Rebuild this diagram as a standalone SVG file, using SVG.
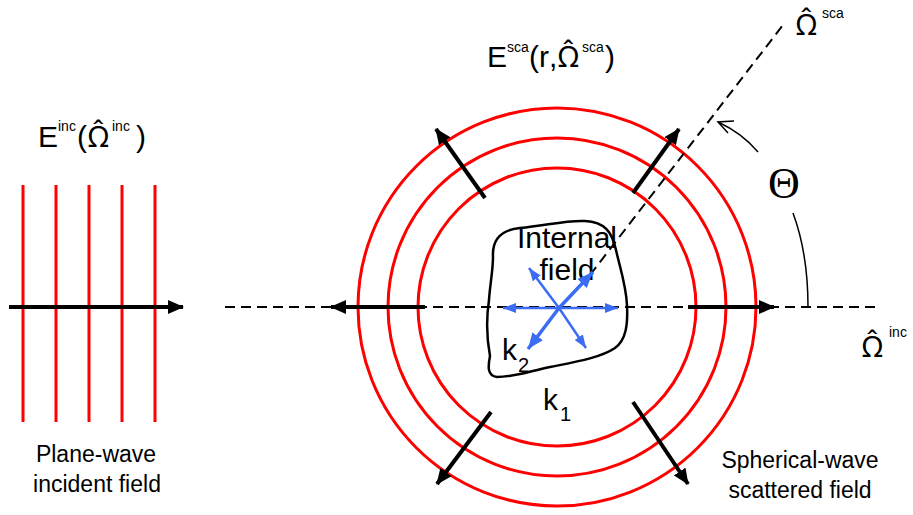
<svg xmlns="http://www.w3.org/2000/svg" width="913" height="515" viewBox="0 0 913 515">
  <defs>
    <style>
      .t { font-family: "Liberation Sans", Arial, sans-serif; fill: #000; font-size: 30px; }
      .om { font-family: "Noto Sans", sans-serif; font-size: 29px; }
      .sup { font-size: 14px; }
      .lbl { font-size: 23px; }
      .red { stroke: #ff0000; stroke-width: 3; fill: none; }
      .blk { stroke: #000; stroke-width: 4; fill: none; }
      .dash { stroke: #000; stroke-width: 2; fill: none; stroke-dasharray: 10 6; }
      .blue { stroke: #3a6cf4; stroke-width: 2.5; fill: none; }
      .blue2 { stroke: #3a6cf4; stroke-width: 3.5; fill: none; }
    </style>
    <marker id="ah" markerUnits="userSpaceOnUse" markerWidth="16" markerHeight="14" refX="15" refY="7" orient="auto">
      <path d="M0,0 L16,7 L0,14 Z" fill="#000"/>
    </marker>
    <marker id="bh" markerUnits="userSpaceOnUse" markerWidth="13" markerHeight="10" refX="13" refY="5" orient="auto">
      <path d="M0,0 L13,5 L0,10 Z" fill="#3a6cf4"/>
    </marker>
    <marker id="bh2" markerUnits="userSpaceOnUse" markerWidth="16" markerHeight="13" refX="16" refY="6.5" orient="auto">
      <path d="M0,0 L16,6.5 L0,13 Z" fill="#3a6cf4"/>
    </marker>
  </defs>

  <g id="plane-wave">
    <line class="red" x1="23" y1="185" x2="23" y2="422"/>
    <line class="red" x1="56" y1="185" x2="56" y2="422"/>
    <line class="red" x1="89" y1="185" x2="89" y2="422"/>
    <line class="red" x1="122" y1="185" x2="122" y2="422"/>
    <line class="red" x1="155" y1="185" x2="155" y2="422"/>
  </g>

  <g id="spherical-wave">
    <circle class="red" cx="557" cy="307" r="139"/>
    <circle class="red" cx="557" cy="307" r="169"/>
    <circle class="red" cx="557" cy="307" r="199"/>
  </g>

  <g id="scatterer">
    <path d="M 493,257 C 492,240 500,230 520,228 C 545,226 565,220 585,221 C 605,222 612,232 616,250 C 620,268 626,285 627,305 C 628,325 626,340 615,348 C 600,358 575,362 550,367 C 530,371 515,377 497,377 C 487,376 488,366 490,356 C 487,340 486,320 489,300 C 490,285 493,270 493,257 Z" fill="none" stroke="#000" stroke-width="2.5"/>
    <text class="t" x="567" y="248" font-size="23" text-anchor="middle">Internal</text>
    <text class="t" x="567" y="280" font-size="23" text-anchor="middle">field</text>
  </g>

  <g id="connectors">
    <line class="dash" x1="225" y1="307" x2="880" y2="307"/>
    <line class="dash" x1="590" y1="275" x2="783" y2="25"/>
    <line class="blk" x1="9" y1="307" x2="183" y2="307" marker-end="url(#ah)"/>
    <line class="blk" x1="425" y1="307" x2="331" y2="307" marker-end="url(#ah)"/>
    <line class="blk" x1="688" y1="307" x2="774" y2="307" marker-end="url(#ah)"/>
    <line class="blk" x1="485" y1="198" x2="436" y2="129" marker-end="url(#ah)"/>
    <line class="blk" x1="633" y1="193" x2="679" y2="129" marker-end="url(#ah)"/>
    <line class="blk" x1="491" y1="412" x2="437" y2="484" marker-end="url(#ah)"/>
    <line class="blk" x1="633" y1="402" x2="688" y2="484" marker-end="url(#ah)"/>
    <line class="blue" x1="559" y1="308" x2="503" y2="308" marker-end="url(#bh)"/>
    <line class="blue" x1="559" y1="308" x2="618" y2="308" marker-end="url(#bh)"/>
    <line class="blue" x1="559" y1="308" x2="529" y2="268" marker-end="url(#bh)"/>
    <line class="blue" x1="559" y1="308" x2="586" y2="348" marker-end="url(#bh)"/>
    <line class="blue2" x1="559" y1="308" x2="593" y2="272" marker-end="url(#bh2)"/>
    <line class="blue2" x1="559" y1="308" x2="528" y2="349" marker-end="url(#bh2)"/>
    <path d="M 808,307 C 808,270 803,240 793,213" fill="none" stroke="#000" stroke-width="1.5"/>
    <path d="M 758,152 Q 742,133 718,122" fill="none" stroke="#000" stroke-width="1.5"/>
    <polyline points="734,121 718,122 728,133" fill="none" stroke="#000" stroke-width="1.5"/>
  </g>

  <g id="label-inc">
    <text class="t"><tspan x="38" y="147">E</tspan><tspan class="sup" x="58" y="131">inc</tspan><tspan x="77" y="147">(</tspan><tspan class="om" x="88" y="147">Ω̂</tspan><tspan class="sup" x="112" y="131">inc</tspan><tspan x="136" y="147">)</tspan></text>
  </g>
  <g id="label-sca">
    <text class="t"><tspan x="487" y="67">E</tspan><tspan class="sup" x="507" y="52">sca</tspan><tspan x="529" y="67">(</tspan><tspan x="539" y="67">r</tspan><tspan x="549" y="67">,</tspan><tspan class="om" x="558" y="67">Ω̂</tspan><tspan class="sup" x="582" y="52">sca</tspan><tspan x="605" y="67">)</tspan></text>
  </g>
  <g id="label-omega-sca">
    <text class="t"><tspan class="om" x="796" y="35">Ω̂</tspan><tspan class="sup" x="822" y="18">sca</tspan></text>
  </g>
  <g id="label-omega-inc">
    <text class="t"><tspan class="om" x="862" y="357">Ω̂</tspan><tspan class="sup" x="889" y="337">inc</tspan></text>
  </g>
  <g id="label-theta">
    <text x="784" y="198" font-family="'Liberation Serif', 'Times New Roman', serif" font-size="44" text-anchor="middle">Θ</text>
  </g>
  <g id="label-k">
    <text class="t" font-size="30"><tspan x="502" y="360">k</tspan><tspan x="518" y="372" font-size="20">2</tspan></text>
    <text class="t" font-size="30"><tspan x="543" y="410">k</tspan><tspan x="560" y="421" font-size="20">1</tspan></text>
  </g>
  <g id="captions">
    <text class="t lbl" x="96" y="462" text-anchor="middle">Plane-wave</text>
    <text class="t lbl" x="97" y="492" text-anchor="middle">incident field</text>
    <text class="t lbl" x="800" y="468" text-anchor="middle">Spherical-wave</text>
    <text class="t lbl" x="800" y="498" text-anchor="middle">scattered field</text>
  </g>
</svg>
